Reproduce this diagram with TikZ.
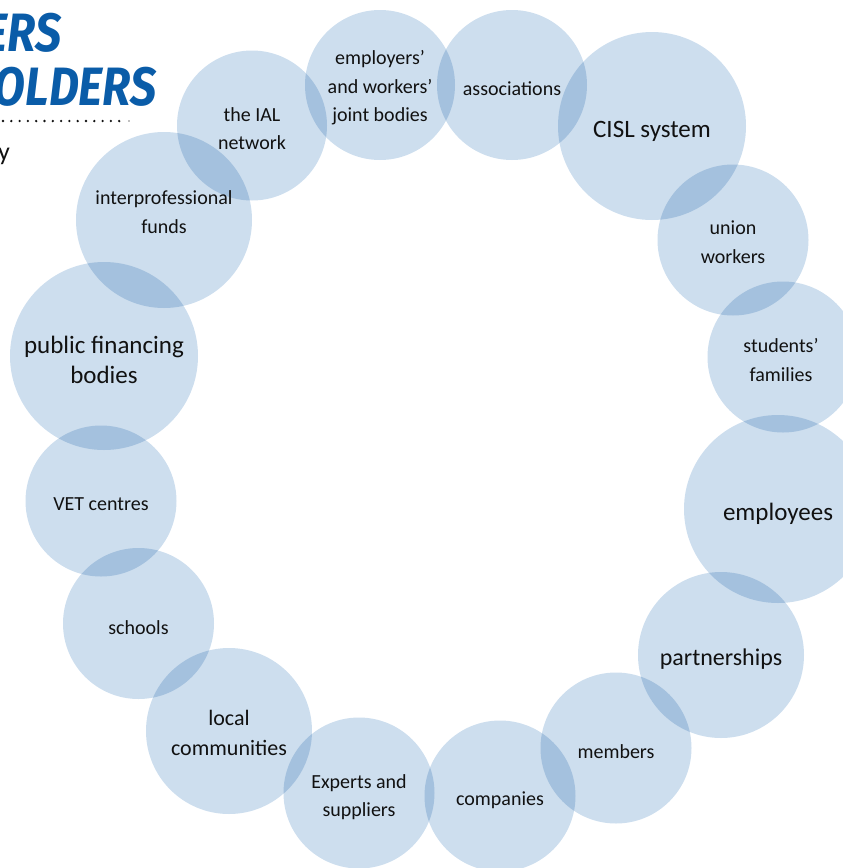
\documentclass[tikz,border=0pt]{standalone}
\usepackage{fontspec}
\setmainfont{Carlito}
\newfontfamily\headfont{Fira Sans}
\definecolor{bubble}{RGB}{205,222,238}
\definecolor{headblue}{RGB}{10,92,168}
\definecolor{inkc}{RGB}{17,17,17}
\tikzset{
  bub/.style={circle, fill=bubble, draw=none, inner sep=0pt, minimum size=#1},
  lblS/.style={align=center, text=inkc, inner sep=0pt, font=\fontsize{20}{28.5}\selectfont},
  lblM/.style={align=center, text=inkc, inner sep=0pt, font=\fontsize{22}{30}\selectfont},
  lblL/.style={align=center, text=inkc, inner sep=0pt, font=\fontsize{25}{30}\selectfont},
  headtxt/.style={text=headblue, inner sep=0pt, anchor=base east,
    font=\headfont\bfseries\itshape\fontsize{54}{54}\selectfont},
}
\begin{document}
\begin{tikzpicture}[x=1pt,y=-1pt]
\useasboundingbox (0,0) rectangle (843,868);
\clip (0,0) rectangle (843,868);

% heading fragments and rule
\node[headtxt] (h1) at (62,51) {\scalebox{0.86}[1]{ERS}};
\node[headtxt] (h2) at (157,105) {\scalebox{0.86}[1]{OLDERS}};
\coordinate (r1) at (3,121);
\coordinate (r2) at (124,121);
\draw[inkc, line width=2.6pt, line cap=round, dash pattern=on 0pt off 8.3pt] (r1) -- (r2);
\fill[gray] (129,121) circle (0.8pt);
\node[anchor=base east, inner sep=0pt, text=inkc, font=\fontsize{26}{26}\selectfont] (ytail) at (10,160) {y};

% ring of overlapping bubbles
\begin{scope}[blend mode=multiply]
\node[bub=150pt] (joint)  at (380,85)    {};
\node[bub=150pt] (assoc)  at (512,85)    {};
\node[bub=150pt] (ial)    at (252,125.5) {};
\node[bub=188pt] (cisl)   at (652,126)   {};
\node[bub=151pt] (union)  at (733,240)   {};
\node[bub=151pt] (stud)   at (783,357)   {};
\node[bub=188pt] (empl)   at (778,509)   {};
\node[bub=166pt] (partn)  at (721,655)   {};
\node[bub=151pt] (memb)   at (616,748)   {};
\node[bub=151pt] (comp)   at (500,796)   {};
\node[bub=151pt] (expert) at (359,793)   {};
\node[bub=166pt] (local)  at (229,731)   {};
\node[bub=151pt] (school) at (138.5,623.5) {};
\node[bub=151pt] (vet)    at (101,501)   {};
\node[bub=188pt] (public) at (104,356)   {};
\node[bub=176pt] (funds)  at (164,220)   {};
\end{scope}

% bubble labels
\node[lblS] at ([yshift=-3pt]joint.center) {employers'\\and workers'\\joint bodies};
\node[lblS] at ([yshift=-4pt]assoc.center) {associations};
\node[lblS] at ([yshift=-3pt]ial.center) {the IAL\\network};
\node[lblL] at ([yshift=-5pt]cisl.center) {CISL system};
\node[lblS] at ([yshift=-2pt]union.center) {union\\workers};
\node[lblS] at ([yshift=-3pt,xshift=-2pt]stud.center) {students'\\families};
\node[lblL] at ([yshift=-5pt]empl.center) {employees};
\node[lblL, font=\fontsize{24}{30}\selectfont] at ([yshift=-4pt]partn.center) {partnerships};
\node[lblS] at ([yshift=-4pt]memb.center) {members};
\node[lblS] at ([yshift=-4pt]comp.center) {companies};
\node[lblS] at ([yshift=-4pt]expert.center) {Experts and\\suppliers};
\node[lblM] at ([yshift=-2pt]local.center) {local\\communities};
\node[lblS] at ([yshift=-4pt]school.center) {schools};
\node[lblS] at ([yshift=-3pt]vet.center) {VET centres};
\node[lblL] at ([yshift=-4pt]public.center) {public financing\\bodies};
\node[lblS] at ([yshift=8pt]funds.center) {interprofessional\\funds};
\end{tikzpicture}
\end{document}
